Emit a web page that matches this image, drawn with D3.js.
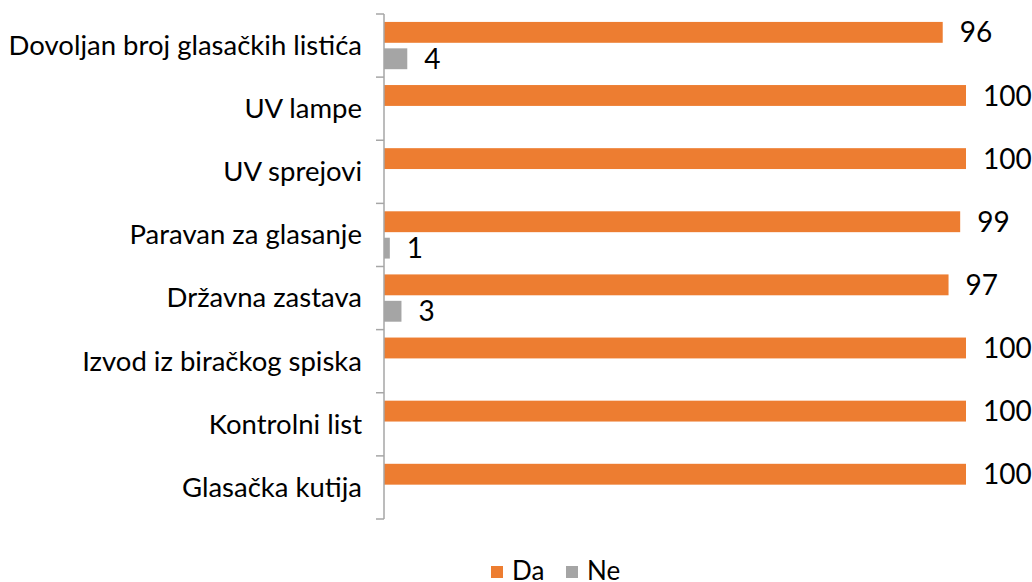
<!DOCTYPE html>
<html><head><meta charset="utf-8">
<script src="https://cdn.jsdelivr.net/npm/d3@7"></script>
<style>body{margin:0;background:#fff;} text{font-family:Lato,"Open Sans",sans-serif;fill:#000;}</style>
</head><body>
<svg id="c" width="1032" height="582"></svg>
<script>
const categories = ["Dovoljan broj glasačkih listića","UV lampe","UV sprejovi","Paravan za glasanje","Državna zastava","Izvod iz biračkog spiska","Kontrolni list","Glasačka kutija"];
const seriesNames = ["Da","Ne"];
const daValues = [96,100,100,99,97,100,100,100];
const neValues = [4,0,0,1,3,0,0,0];
const colors = {Da:"#ED7D31", Ne:"#A5A5A5"};

(function(){
const svg = d3.select("#c");
const x0 = 384, yTop = 14, yBottom = 519;
const x = d3.scaleLinear().domain([0,100]).range([x0, 966]);
const y = d3.scaleBand().domain(categories).range([yTop,yBottom]);
const yi = d3.scaleBand().domain(seriesNames).range([0,y.bandwidth()]).paddingInner(0.21).paddingOuter(0.3);

const rows = categories.map((c,i)=>({cat:c, Da:daValues[i], Ne:neValues[i]}));

const g = svg.append("g");
rows.forEach(r=>{
  seriesNames.forEach(s=>{
    const v = r[s];
    if (v<=0) return;
    const yy = y(r.cat)+yi(s);
    g.append("rect").attr("x",x(0)).attr("y",yy).attr("width",x(v)-x(0)).attr("height",yi.bandwidth()).attr("fill",colors[s]);
    g.append("text").attr("x",x(v)+17).attr("y",yy+yi.bandwidth()/2).attr("dy","0.36em")
      .attr("font-size",28).text(v);
  });
});

// axis
const axis = d3.axisLeft(y).tickSize(0).tickPadding(22);
const ag = svg.append("g").attr("transform",`translate(${x0},0)`).call(axis);
ag.select(".domain").remove();
ag.selectAll("text").attr("font-size",27.5).attr("fill","#000").attr("dy","0.34em").style("font-family","Lato");
svg.append("line").attr("x1",x0).attr("x2",x0).attr("y1",yTop).attr("y2",yBottom).attr("stroke","#A6A6A6").attr("stroke-width",1.5);
const bounds = categories.map(c=>y(c)).concat([yBottom]);
svg.selectAll(".tk").data(bounds).enter().append("line").attr("x1",x0-8).attr("x2",x0).attr("y1",d=>d).attr("y2",d=>d).attr("stroke","#A6A6A6").attr("stroke-width",1.5);

// legend
const leg = svg.append("g");
const legX = {Da:491, Ne:566};
seriesNames.forEach(s=>{
  leg.append("rect").attr("x",legX[s]).attr("y",566).attr("width",12).attr("height",12).attr("fill",colors[s]);
  leg.append("text").attr("x",legX[s]+21).attr("y",580).attr("font-size",26).text(s);
});
})();
</script>
</body></html>
